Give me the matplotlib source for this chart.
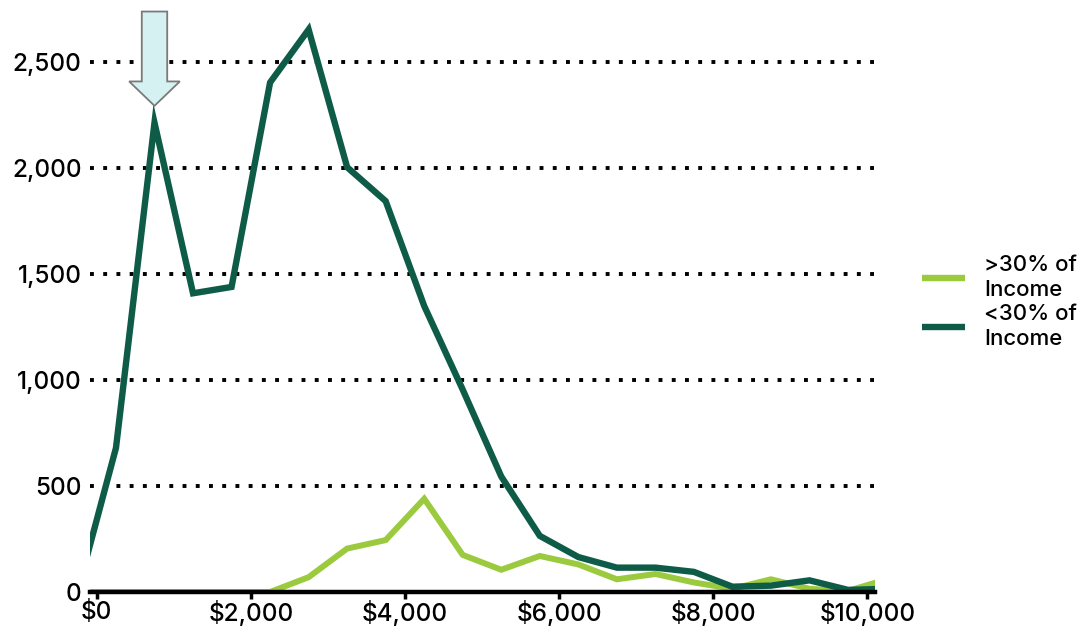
import matplotlib
matplotlib.use("Agg")
import matplotlib.pyplot as plt
from matplotlib.patches import FancyArrow
from matplotlib.ticker import FuncFormatter

plt.rcParams['font.family'] = ['Inter', 'DejaVu Sans']
plt.rcParams['font.weight'] = 500

# Monthly housing cost bins (midpoints, dollars) and household counts
cost_bins = [-250, 250, 750, 1250, 1750, 2250, 2750, 3250, 3750, 4250, 4750,
             5250, 5750, 6250, 6750, 7250, 7750, 8250, 8750, 9250, 9750, 10250]
over_30 = [0, 0, 0, 0, 0, 0, 70, 205, 245, 440, 175,
           105, 170, 130, 60, 85, 45, 15, 60, 15, 5, 60]
under_30 = [0, 680, 2215, 1410, 1440, 2405, 2655, 2005, 1845, 1350, 955,
            545, 265, 165, 115, 115, 95, 25, 30, 55, 10, 15]

series_labels = [">30% of\nIncome", "<30% of\nIncome"]
series_colors = ["#9bca3e", "#0e5c47"]

y_ticks = [0, 500, 1000, 1500, 2000, 2500]
x_ticks = [0, 2000, 4000, 6000, 8000, 10000]

W, H = 1084, 627
fig = plt.figure(figsize=(W / 100, H / 100), dpi=100)
ax = fig.add_axes([90 / W, 35 / H, 785 / W, 572 / H])

ax.plot(cost_bins, over_30, color=series_colors[0], lw=4.3,
        solid_joinstyle='miter', label=series_labels[0], zorder=3)
ax.plot(cost_bins, under_30, color=series_colors[1], lw=4.6,
        solid_joinstyle='miter', label=series_labels[1], zorder=4)

ax.set_xlim(-87, 10100)
ax.set_ylim(0, 2700)

# Baseline drawn over the zero gridline
ax.axhline(0, color='black', lw=3.2, zorder=5, clip_on=False)

for side in ['left', 'right', 'top', 'bottom']:
    ax.spines[side].set_visible(False)

ax.set_yticks(y_ticks)
ax.yaxis.set_major_formatter(FuncFormatter(lambda v, p: f"{int(v):,}"))
ax.tick_params(axis='y', length=0, pad=6, labelsize=17.5)
ax.set_xticks(x_ticks)
ax.xaxis.set_major_formatter(FuncFormatter(lambda v, p: f"${int(v):,}"))
ax.tick_params(axis='x', length=5, width=2.5, color='black', pad=1, labelsize=17.5)

ax.yaxis.grid(True, color='black', lw=2.8, linestyle=(0, (1, 2.4)),
              dash_capstyle='butt')
ax.set_axisbelow(True)

# Arrow pointing at the first peak
peak_x = cost_bins[2]
peak_y = under_30[2]
arrow_top = 2740
arrow_tip = peak_y + 80
arrow = FancyArrow(peak_x, arrow_top, 0, -(arrow_top - arrow_tip),
                   width=330, head_width=658, head_length=115,
                   length_includes_head=True, facecolor='#d6f1f1',
                   edgecolor='#7a7a7a', lw=1.3, clip_on=False, zorder=6)
ax.add_patch(arrow)

leg = fig.legend(loc='center left', bbox_to_anchor=(902 / W, 1 - 302 / H),
                 frameon=False, fontsize=16, handlelength=1.94,
                 handletextpad=0.85, labelspacing=0.14)
for line in leg.get_lines():
    line.set_linewidth(4.6)
    line.set_solid_capstyle('butt')
for t in leg.get_texts():
    t.set_linespacing(1.36)

fig.savefig("out.png", dpi=100)
